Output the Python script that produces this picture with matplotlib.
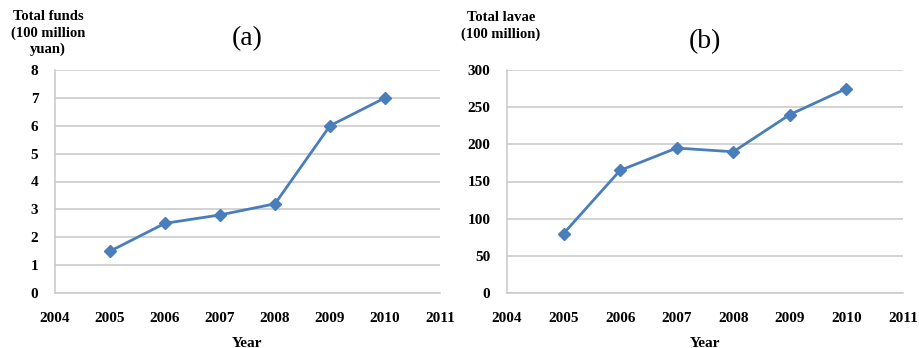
import matplotlib
matplotlib.use("Agg")
import matplotlib.pyplot as plt

# data
years = [2005, 2006, 2007, 2008, 2009, 2010]
funds = [1.5, 2.5, 2.8, 3.2, 6.0, 7.0]
larvae = [80, 165, 195, 190, 240, 275]
x_ticks = [2004, 2005, 2006, 2007, 2008, 2009, 2010, 2011]

plt.rcParams["font.family"] = ["Liberation Serif", "DejaVu Serif"]

line_color = "#4A7EBB"
grid_color = "#C8C8C8"

fig = plt.figure(figsize=(9.19, 3.48), dpi=100)
W, H = 919, 348


def make_axes(left, right, top, bottom):
    return fig.add_axes([left / W, 1 - bottom / H, (right - left) / W, (bottom - top) / H])


def style(ax, yticks):
    ax.set_xlim(2004, 2011)
    ax.set_ylim(yticks[0], yticks[-1])
    ax.set_xticks(x_ticks)
    ax.set_yticks(yticks)
    ax.tick_params(length=0, labelsize=11)
    ax.tick_params(axis="x", pad=14)
    ax.tick_params(axis="y", pad=12)
    for lab in ax.get_xticklabels() + ax.get_yticklabels():
        lab.set_fontweight("bold")
    ax.grid(axis="y", color=grid_color, linewidth=1.1)
    ax.set_axisbelow(True)
    for s in ["top", "right"]:
        ax.spines[s].set_visible(False)
    for s in ["left", "bottom"]:
        ax.spines[s].set_color(grid_color)
        ax.spines[s].set_linewidth(1.1)
    ax.set_xlabel("Year", fontweight="bold", fontsize=11, labelpad=8)


ax1 = make_axes(55, 440, 70, 293)
ax1.plot(years, funds, color=line_color, linewidth=2, marker="D", markersize=6)
style(ax1, list(range(0, 9)))
ax1.set_title("(a)", fontsize=20, pad=18)
fig.text(48 / W, 1 - 33 / H, "Total funds\n(100 million\nyuan)", ha="center", va="center",
         fontsize=10.5, fontweight="bold", linespacing=1.3)

ax2 = make_axes(507, 903, 70, 293)
ax2.plot(years, larvae, color=line_color, linewidth=2, marker="D", markersize=6)
style(ax2, list(range(0, 301, 50)))
ax2.set_title("(b)", fontsize=20, pad=16)
fig.text(501 / W, 1 - 26 / H, "Total lavae\n(100 million)", ha="center", va="center",
         fontsize=10.5, fontweight="bold", linespacing=1.4)

fig.savefig("out.png", dpi=100)
